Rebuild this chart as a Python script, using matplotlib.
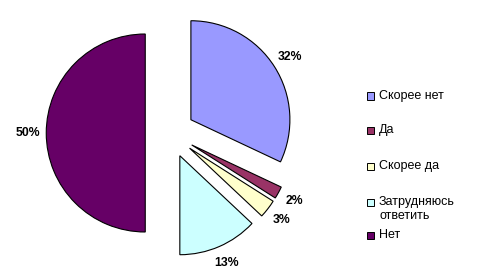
import matplotlib
matplotlib.use('Agg')
import matplotlib.pyplot as plt
from matplotlib.patches import Rectangle

# answer shares, clockwise from 12 o'clock
labels = ['Скорее нет', 'Да', 'Скорее да', 'Затрудняюсь\nответить', 'Нет']
shares = [32, 2, 3, 13, 50]
colors = ['#9999FF', '#993366', '#FFFFCC', '#CCFFFF', '#660066']

plt.rcParams['font.family'] = ['Liberation Sans', 'DejaVu Sans']

W, H = 492, 275
R = 99.0            # pie radius, px
cx, cy = 170, 133   # pie centre, px from top-left

fig = plt.figure(figsize=(W / 100, H / 100), dpi=100)
ax = fig.add_axes([0, 0, 1, 1])

wedges, texts, autotexts = ax.pie(
    shares, colors=colors, startangle=90, counterclock=False,
    explode=[0.25] * len(shares), autopct='%1.0f%%', pctdistance=1.18,
    wedgeprops=dict(edgecolor='black', linewidth=0.8),
    textprops=dict(fontsize=8.8, fontweight='bold', color='black'))

ax.set_xlim(-cx / R, (W - cx) / R)
ax.set_ylim(-(H - cy) / R, cy / R)
ax.set_aspect('auto')
ax.axis('off')

# legend drawn by hand so the two-line entry keeps its box on the first line
legend_y = [96, 131, 166, 202, 235]
for lab, col, y in zip(labels, colors, legend_y):
    fig.add_artist(Rectangle((367 / W, 1 - (y + 3.5) / H), 7 / W, 7 / H,
                             transform=fig.transFigure, facecolor=col,
                             edgecolor='black', linewidth=0.7))
    fig.text(379 / W, 1 - (y - 6.5) / H, lab, fontsize=9, va='top', ha='left',
             linespacing=1.25)

fig.savefig('out.png', dpi=100)
